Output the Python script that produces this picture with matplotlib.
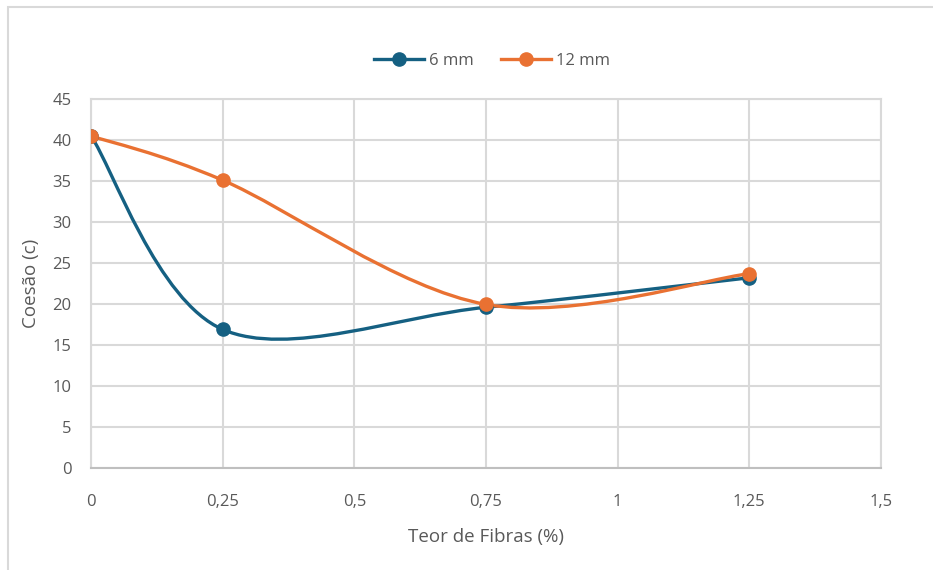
import numpy as np
import matplotlib
matplotlib.use("Agg")
import matplotlib.pyplot as plt
from matplotlib.patches import Rectangle
from matplotlib.path import Path
from matplotlib.patches import PathPatch
from matplotlib.lines import Line2D

fibras = [0, 0.25, 0.75, 1.25]
coesao_6mm = [40.5, 16.9, 19.6, 23.2]
coesao_12mm = [40.5, 35.1, 19.95, 23.7]
series_names = ["6 mm", "12 mm"]
colors = ["#156082", "#E97132"]
x_ticks = [0, 0.25, 0.5, 0.75, 1, 1.25, 1.5]
x_tick_labels = ["0", "0,25", "0,5", "0,75", "1", "1,25", "1,5"]
y_ticks = list(range(0, 50, 5))

plt.rcParams['font.family'] = ['Open Sans', 'DejaVu Sans']
text_color = "#595959"
grid_color = "#d9d9d9"

fig = plt.figure(figsize=(9.33, 5.70), dpi=100)
fig.patch.set_facecolor("white")
fig.patches.append(Rectangle((8/933, -0.05), 1.1, 1 - 7/570 + 0.05, transform=fig.transFigure,
                             fill=False, edgecolor=grid_color, linewidth=1.5))

ax = fig.add_axes([91/933, 1 - 468/570, (881-91)/933, (468-99)/570])


def smooth_path(xs, ys):
    pts = np.column_stack([xs, ys]).astype(float)
    n = len(pts)
    verts = [pts[0]]
    codes = [Path.MOVETO]
    for i in range(n - 1):
        p0 = pts[i - 1] if i > 0 else pts[i]
        p1 = pts[i]
        p2 = pts[i + 1]
        p3 = pts[i + 2] if i + 2 < n else pts[i + 1]
        c1 = p1 + (p2 - p0) / 6.0
        c2 = p2 - (p3 - p1) / 6.0
        verts += [c1, c2, p2]
        codes += [Path.CURVE4] * 3
    return Path(verts, codes)


for ys, col, name in zip([coesao_6mm, coesao_12mm], colors, series_names):
    patch = PathPatch(smooth_path(fibras, ys), facecolor="none", edgecolor=col,
                      linewidth=2.4, zorder=3, capstyle="round", joinstyle="round")
    ax.add_patch(patch)
    ax.plot(fibras, ys, linestyle="none", marker="o", markersize=9.5,
            color=col, zorder=4)

ax.set_xlim(0, 1.5)
ax.set_ylim(0, 45)
ax.set_xticks(x_ticks)
ax.set_xticklabels(x_tick_labels)
ax.set_yticks(y_ticks)
ax.grid(True, color=grid_color, linewidth=1.5)
ax.set_axisbelow(True)
for s in ax.spines.values():
    s.set_color(grid_color)
    s.set_linewidth(1.5)
ax.spines['bottom'].set_color("#bfbfbf")
ax.tick_params(length=0, labelsize=12, labelcolor=text_color)
ax.tick_params(axis='x', pad=19)
ax.tick_params(axis='y', pad=14)

ax.set_xlabel("Teor de Fibras (%)", fontsize=13.5, color=text_color, labelpad=13)
ax.set_ylabel("Coesão (c)", fontsize=13.5, color=text_color, labelpad=9)

handles = [Line2D([0], [0], color=c, linewidth=2.4, marker="o", markersize=9.5)
           for c in colors]
fig.legend(handles, series_names, loc="center", bbox_to_anchor=(492/933, 1 - 61/570),
           ncol=2, frameon=False, fontsize=12, labelcolor=text_color,
           handlelength=3.0, handletextpad=0.3, columnspacing=1.6)

fig.savefig("out.png", dpi=100, facecolor="white")
